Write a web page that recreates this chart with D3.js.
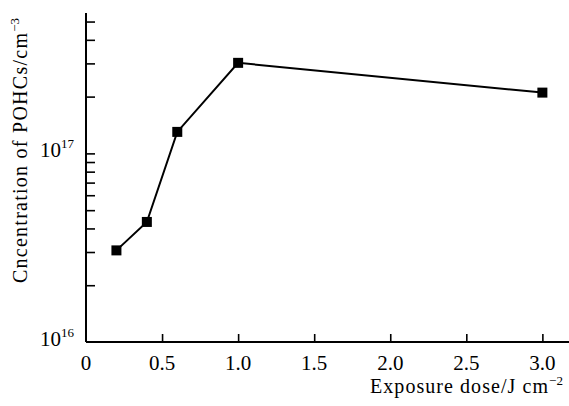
<!DOCTYPE html>
<html>
<head>
<meta charset="utf-8">
<script src="https://cdn.jsdelivr.net/npm/d3@7"></script>
<style>
  body { margin: 0; background: #fff; }
  svg { font-family: "Liberation Serif", "DejaVu Serif", serif; }
</style>
</head>
<body>
<div id="chart"></div>
<script>
// Data
const doses = [0.2, 0.4, 0.6, 1.0, 3.0];
const concentrations = [3.06e16, 4.33e16, 1.30e17, 3.02e17, 2.10e17];
const xTicks = [0, 0.5, 1.0, 1.5, 2.0, 2.5, 3.0];
const xTickLabels = ['0', '0.5', '1.0', '1.5', '2.0', '2.5', '3.0'];
const yMajor = [1e16, 1e17];
const yMajorExp = ['16', '17'];
const yMinor = [2e16, 3e16, 4e16, 5e16, 6e16, 7e16, 8e16, 9e16, 2e17, 3e17, 4e17, 5e17];

const width = 569, height = 406;
const margin = { left: 86, right: 0, top: 13, bottom: 64 };

const svg = d3.select('#chart').append('svg')
  .attr('width', width)
  .attr('height', height);

const x = d3.scaleLinear()
  .domain([0, 3.175])
  .range([margin.left, width - margin.right]);

const y = d3.scaleLog()
  .domain([1e16, 5.55e17])
  .range([height - margin.bottom, margin.top]);

// X axis, ticks pointing inward
const xAxis = svg.append('g')
  .attr('transform', `translate(0,${height - margin.bottom})`)
  .call(d3.axisBottom(x).tickValues(xTicks.slice(1)).tickSize(-8).tickFormat(''));
xAxis.select('.domain').attr('stroke', '#000').attr('stroke-width', 2)
  .attr('d', `M${margin.left},0H${width}`);
xAxis.selectAll('.tick line').attr('stroke', '#000').attr('stroke-width', 1.6);

svg.append('g').selectAll('text')
  .data(xTicks)
  .join('text')
  .attr('x', d => x(d))
  .attr('y', 370)
  .attr('text-anchor', 'middle')
  .attr('font-size', 21)
  .text((d, i) => xTickLabels[i]);

// Y axis
const yAxis = svg.append('g')
  .attr('transform', `translate(${margin.left},0)`)
  .call(d3.axisLeft(y).tickValues(yMajor.concat(yMinor)).tickSize(-9).tickFormat(''));
yAxis.select('.domain').attr('stroke', '#000').attr('stroke-width', 2)
  .attr('d', `M0,${margin.top}V${height - margin.bottom}`);
yAxis.selectAll('.tick line').attr('stroke', '#000').attr('stroke-width', 1.6);
yAxis.selectAll('.tick').filter(d => d === 1e16).select('line').remove();

const yLab = svg.append('g').selectAll('text')
  .data(yMajor)
  .join('text')
  .attr('x', 74)
  .attr('y', d => y(d) + 4)
  .attr('text-anchor', 'end')
  .attr('font-size', 21);
yLab.append('tspan').text('10');
yLab.append('tspan').attr('dy', -9).attr('font-size', 13).text((d, i) => yMajorExp[i]);

// Axis titles
const xTitle = svg.append('text')
  .attr('x', 370)
  .attr('y', 393)
  .attr('font-size', 20);
xTitle.append('tspan').attr('textLength', 178).attr('lengthAdjust', 'spacing')
  .text('Exposure dose/J cm');
xTitle.append('tspan').attr('dy', -8).attr('font-size', 13).text('\u22122');

const yTitle = svg.append('text')
  .attr('transform', `translate(27,283) rotate(-90)`)
  .attr('font-size', 20);
yTitle.append('tspan').attr('textLength', 250).attr('lengthAdjust', 'spacing')
  .text('Cncentration of POHCs/cm');
yTitle.append('tspan').attr('dy', -8).attr('font-size', 13).text('\u22123');

// Series
const pts = doses.map((d, i) => [d, concentrations[i]]);
svg.append('path')
  .datum(pts)
  .attr('fill', 'none')
  .attr('stroke', '#000')
  .attr('stroke-width', 2)
  .attr('d', d3.line().x(d => x(d[0])).y(d => y(d[1])));

const s = 10;
svg.append('g').selectAll('rect')
  .data(pts)
  .join('rect')
  .attr('x', d => x(d[0]) - s / 2)
  .attr('y', d => y(d[1]) - s / 2)
  .attr('width', s)
  .attr('height', s)
  .attr('fill', '#000');
</script>
</body>
</html>
